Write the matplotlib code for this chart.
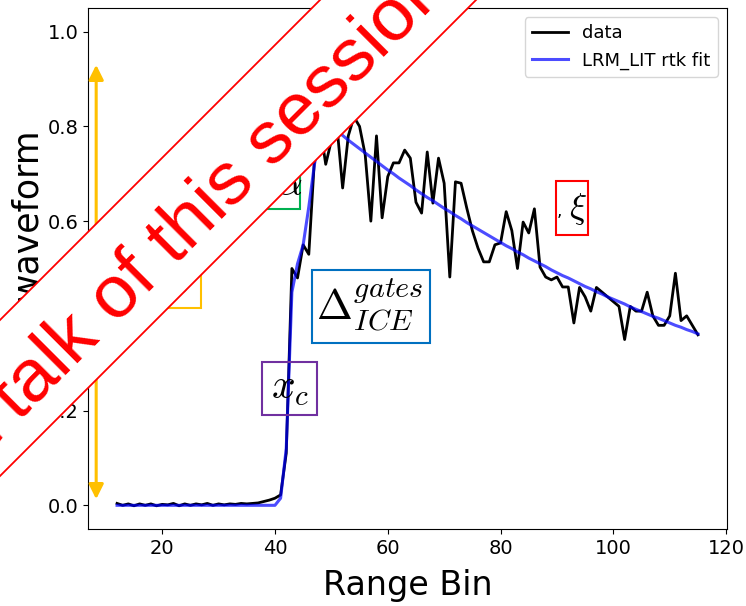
import numpy as np
import matplotlib
matplotlib.use("Agg")
import matplotlib.pyplot as plt
from matplotlib.patches import Polygon, Rectangle

W, H = 746, 606

# range bins and normalised echo
bins = np.arange(12, 116)
wave = [0.004, 0.000, 0.003, -0.001, 0.003, 0.000, 0.003, -0.001, 0.002, 0.001,
        0.004, -0.001, 0.003, 0.000, 0.003, 0.001, 0.004, 0.000, 0.003, 0.001,
        0.003, 0.002, 0.004, 0.003, 0.004, 0.005, 0.008, 0.011, 0.015,
        0.022, 0.11, 0.50, 0.48, 0.55, 0.53, 0.73, 0.80, 0.72, 0.77,
        0.80, 0.67, 0.78, 0.82, 0.80, 0.74, 0.60,
        0.78, 0.607, 0.694, 0.723, 0.723, 0.75, 0.733, 0.64, 0.617, 0.746,
        0.638, 0.733, 0.68, 0.482, 0.683, 0.68, 0.628, 0.58, 0.543, 0.514,
        0.514, 0.55, 0.554, 0.62, 0.58, 0.50, 0.598, 0.575, 0.626, 0.503,
        0.482, 0.476, 0.482, 0.461, 0.461,
        0.385, 0.46, 0.44, 0.41, 0.46, 0.45, 0.44, 0.43, 0.42, 0.35,
        0.42, 0.41, 0.41, 0.45, 0.40, 0.38, 0.38, 0.40, 0.49, 0.39,
        0.40, 0.38, 0.36]

# retracker fit
fit = [0.0] * 29 + [
    0.015, 0.12, 0.45, 0.51, 0.55, 0.63, 0.72, 0.78, 0.80,
    0.800, 0.790, 0.781, 0.771, 0.762, 0.753, 0.744, 0.735, 0.726, 0.717,
    0.708, 0.700, 0.691, 0.683, 0.675, 0.666, 0.658, 0.650, 0.643, 0.635,
    0.627, 0.620, 0.612, 0.605, 0.597, 0.590, 0.583, 0.576, 0.569, 0.562,
    0.555, 0.548, 0.542, 0.535, 0.529, 0.522, 0.516, 0.510, 0.504, 0.497,
    0.491, 0.485, 0.480, 0.474, 0.468, 0.462, 0.457, 0.451, 0.446, 0.440,
    0.435, 0.430, 0.425, 0.419, 0.414, 0.409, 0.404, 0.399, 0.395, 0.390,
    0.385, 0.380, 0.376, 0.371, 0.367, 0.362]

banner = "Next talk of this session"


def fx(px):
    return px / W


def fy(py):
    return 1 - py / H


plt.rcParams["mathtext.fontset"] = "cm"
fig = plt.figure(figsize=(W / 100, H / 100), dpi=100)
ax = fig.add_axes([fx(88), fy(529), fx(727) - fx(88), fy(8) - fy(529)])

ax.plot(bins, wave, color="black", lw=2, label="data")
ax.plot(bins, fit, color="blue", lw=2.2, alpha=0.7, label="LRM_LIT rtk fit")
ax.set_xlim(6.85, 120.15)
ax.set_ylim(-0.05, 1.05)
ax.set_xticks([20, 40, 60, 80, 100, 120])
ax.set_yticks([0.0, 0.2, 0.4, 0.6, 0.8, 1.0])
ax.tick_params(labelsize=14)
ax.set_xlabel("Range Bin", fontsize=24, labelpad=8)
ax.set_ylabel("waveform", fontsize=25)
ax.yaxis.set_label_coords(-0.069, 0.603)
ax.legend(loc="upper right", fontsize=13)

# amplitude arrow
ax.annotate("", xy=(8.3, 0.013), xytext=(8.3, 0.93),
            arrowprops=dict(arrowstyle="<|-|>", color="#FFC000", lw=2.2,
                            mutation_scale=22, shrinkA=0, shrinkB=0))

# parameter boxes (pixel extents)
boxes = [
    ((160, 240, 201, 308), "#FFC000", r"$\sigma$", (183, 283), 28),
    ((268, 150, 300, 209), "#00B050", r"$\alpha$", (290, 184), 28),
    ((312, 270, 430, 343), "#0070C0", r"$\Delta^{gates}_{ICE}$", (370, 305), 31),
    ((262, 362, 317, 415), "#7030A0", r"$x_c$", (290, 387), 30),
    ((556, 181, 588, 235), "red", r"$\xi$", (578, 209), 26),
]
for (x0, y0, x1, y1), col, txt, (tx, ty), fs in boxes:
    fig.patches.append(Rectangle((fx(x0), fy(y1)), fx(x1) - fx(x0), fy(y0) - fy(y1),
                                 transform=fig.transFigure, fill=False,
                                 edgecolor=col, lw=1.5, zorder=5))
    fig.text(fx(tx), fy(ty), txt, fontsize=fs, ha="center", va="center", zorder=6)
fig.text(fx(559), fy(211), ",", fontsize=12, ha="center", va="center", zorder=6)

# diagonal banner
band = [(-100, 420), (420, -100), (576, -100), (-100, 576)]
fig.patches.append(Polygon([(fx(a), fy(b)) for a, b in band], closed=True,
                           transform=fig.transFigure, facecolor="white",
                           edgecolor="red", lw=1.3, zorder=10))
fig.text(fx(451), fy(-11), banner, rotation=45, rotation_mode="anchor",
         ha="right", va="baseline", fontsize=54, color="red",
         family="Liberation Sans", zorder=11)

fig.savefig("out.png", dpi=100)
